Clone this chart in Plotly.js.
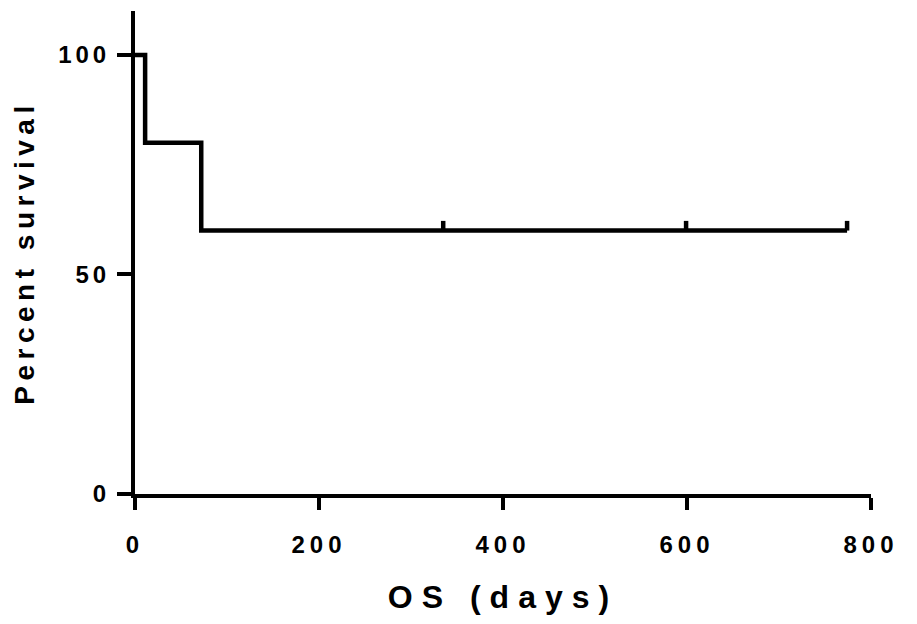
<!DOCTYPE html>
<html>
<head>
<meta charset="utf-8">
<script src="https://cdn.plot.ly/plotly-3.0.1.min.js"></script>
<style>
html,body{margin:0;padding:0;background:#fff;}
#chart{width:917px;height:624px;}
.xtick text{letter-spacing:5px;}
.ytick text{letter-spacing:4px;}
.xtitle{letter-spacing:9px;}
.ytitle{letter-spacing:5.5px;}
</style>
</head>
<body>
<div id="chart"></div>
<script>
// Kaplan-Meier step data
const eventDays = [0, 11, 72, 774];
const survival = [100, 80, 60, 60];
const censorDays = [335, 599, 774];
const censorSurvival = [60, 60, 60];
const censorTickHeight = 2.2; // in percent units
const xTickVals = [0, 200, 400, 600, 800];
const yTickVals = [0, 50, 100];

const cx = [], cy = [];
censorDays.forEach((d, i) => {
  cx.push(d, d, null);
  cy.push(censorSurvival[i], censorSurvival[i] + censorTickHeight, null);
});

const traces = [
  {x: eventDays, y: survival, type: 'scatter', mode: 'lines',
   line: {shape: 'hv', color: '#000', width: 4.5}, hoverinfo: 'skip'},
  {x: cx, y: cy, type: 'scatter', mode: 'lines',
   line: {color: '#000', width: 4.5}, hoverinfo: 'skip'}
];

const font = 'Liberation Sans, Arial, sans-serif';
const layout = {
  width: 917, height: 624,
  margin: {l: 135, r: 46, t: 11, b: 130},
  paper_bgcolor: '#fff', plot_bgcolor: '#fff',
  showlegend: false,
  xaxis: {
    range: [0, 800], tickvals: xTickVals, ticktext: xTickVals.map(String),
    showgrid: false, zeroline: false, showline: true, linecolor: '#000', linewidth: 4,
    ticks: 'outside', ticklen: 12, tickwidth: 4, tickcolor: '#000',
    tickfont: {family: font, size: 24, color: '#000', weight: 'bold'},
    ticklabelstandoff: 14,
    title: {text: 'OS (days)', font: {family: font, size: 32, color: '#000', weight: 'bold'}, standoff: 30}
  },
  yaxis: {
    range: [0, 110], tickvals: yTickVals, ticktext: yTickVals.map(String),
    showgrid: false, zeroline: false, showline: true, linecolor: '#000', linewidth: 4,
    ticks: 'outside', ticklen: 14, tickwidth: 4, tickcolor: '#000',
    tickfont: {family: font, size: 24, color: '#000', weight: 'bold'},
    ticklabelstandoff: 2,
    title: {text: 'Percent survival', font: {family: font, size: 28, color: '#000', weight: 'bold'}, standoff: 16}
  }
};

Plotly.newPlot('chart', traces, layout, {displayModeBar: false, staticPlot: true});
</script>
</body>
</html>
